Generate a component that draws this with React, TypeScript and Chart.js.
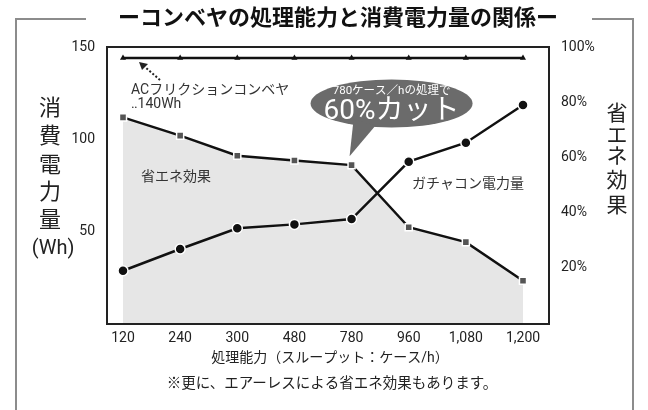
import React, { useEffect, useRef } from "react";
import { Chart, registerables } from "chart.js";

Chart.register(...registerables);

// ---- data ----
const categories = ["120", "240", "300", "480", "780", "960", "1,080", "1,200"];
const gachaconWh = [28.4, 40.2, 51.5, 53.6, 56.5, 87.7, 98, 118.5];
const savingPct = [74.5, 67.9, 60.6, 58.9, 57.2, 34.7, 29.3, 15.3];
const acFrictionWh = [144, 144, 144, 144, 144, 144, 144, 144];
const leftAxisMax = 150;
const leftAxisStep = 50;
const rightAxisMax = 100;
const rightAxisStep = 20;

const titleText = "ーコンベヤの処理能力と消費電力量の関係ー";
const leftTitleChars = ["消", "費", "電", "力", "量", "(Wh)"];
const rightTitleChars = ["省", "エ", "ネ", "効", "果"];
const xTitle = "処理能力（スループット：ケース/h）";
const noteText = "※更に、エアーレスによる省エネ効果もあります。";
const acLabel1 = "ACフリクションコンベヤ";
const acLabel2 = "‥140Wh";
const savingLabel = "省エネ効果";
const gachaconLabel = "ガチャコン電力量";
const bubbleLine1 = "780ケース／hの処理で";
const bubbleLine2 = "60%カット";
const bubbleIndex = 4;

const FONT = '"Liberation Sans Narrow", Roboto, "Noto Sans CJK JP", sans-serif';
const JFONT = 'Roboto, "Noto Sans CJK JP", sans-serif';

const decorPlugin = {
  id: "decor",
  afterDraw(chart: any) {
    const ctx = chart.ctx as CanvasRenderingContext2D;
    const a = chart.chartArea;
    ctx.save();

    // outer grey frame
    ctx.strokeStyle = "#8c8c8c";
    ctx.lineWidth = 2;
    ctx.beginPath();
    ctx.moveTo(16, 412);
    ctx.lineTo(16, 19);
    ctx.lineTo(86, 19);
    ctx.moveTo(592, 19);
    ctx.lineTo(633, 19);
    ctx.lineTo(633, 412);
    ctx.stroke();

    // title
    ctx.fillStyle = "#111";
    ctx.font = `bold 22px ${JFONT}`;
    ctx.textAlign = "center";
    ctx.textBaseline = "middle";
    ctx.fillText(titleText, 338, 19);

    // plot frame
    ctx.strokeStyle = "#222";
    ctx.lineWidth = 2;
    ctx.strokeRect(a.left - 16, a.top, a.right - a.left + 42, a.bottom - a.top + 1);

    // vertical axis titles
    ctx.fillStyle = "#222";
    ctx.font = `22px ${JFONT}`;
    const lc = [109, 137.5, 166, 193.5, 221];
    for (let i = 0; i < 5; i++) ctx.fillText(leftTitleChars[i], 50, lc[i]);
    ctx.font = `20px ${FONT}`;
    ctx.fillText(leftTitleChars[5], 53, 249);
    ctx.font = `21px ${JFONT}`;
    const rc = [115, 137, 158, 182, 207];
    for (let i = 0; i < 5; i++) ctx.fillText(rightTitleChars[i], 617, rc[i]);

    // x title and note
    ctx.fillStyle = "#222";
    ctx.font = `14px ${JFONT}`;
    ctx.fillText(xTitle, 330, 358);
    ctx.font = `14.5px ${JFONT}`;
    ctx.fillText(noteText, 332, 384);

    // annotations
    ctx.fillStyle = "#333";
    ctx.textAlign = "left";
    ctx.font = `14px ${JFONT}`;
    ctx.fillText(acLabel1, 131, 90);
    ctx.fillText(acLabel2, 131, 104);
    ctx.fillText(savingLabel, 141, 177);
    ctx.fillText(gachaconLabel, 412, 184);

    // dotted arrow
    ctx.strokeStyle = "#222";
    ctx.lineWidth = 2;
    ctx.setLineDash([2, 2]);
    ctx.beginPath();
    ctx.moveTo(160, 80);
    ctx.lineTo(145, 67);
    ctx.stroke();
    ctx.setLineDash([]);
    ctx.fillStyle = "#222";
    ctx.beginPath();
    ctx.moveTo(139, 62);
    ctx.lineTo(148, 64);
    ctx.lineTo(142, 70);
    ctx.closePath();
    ctx.fill();

    // speech bubble anchored to the 780 point of the saving series
    const meta = chart.getDatasetMeta(2);
    const p = meta.data[bubbleIndex];
    const cx = p.x + 40;
    const cy = 103.5;
    ctx.fillStyle = "#6b6b6b";
    ctx.beginPath();
    ctx.ellipse(cx, cy, 81, 24, 0, 0, Math.PI * 2);
    ctx.fill();
    ctx.beginPath();
    ctx.moveTo(cx - 38, cy + 16);
    ctx.lineTo(p.x - 2, p.y - 9);
    ctx.lineTo(cx - 16, cy + 22);
    ctx.closePath();
    ctx.fill();
    ctx.fillStyle = "#fff";
    ctx.textAlign = "center";
    ctx.font = `11.5px ${JFONT}`;
    ctx.fillText(bubbleLine1, cx, 91);
    ctx.font = `28px ${JFONT}`;
    ctx.fillText(bubbleLine2, cx, 112);

    ctx.restore();
  },
};

export default function App() {
  const ref = useRef<HTMLCanvasElement | null>(null);
  useEffect(() => {
    if (!ref.current) return;
    const chart = new Chart(ref.current, {
      type: "line",
      data: {
        labels: categories,
        datasets: [
          {
            label: "ACフリクションコンベヤ",
            data: acFrictionWh,
            yAxisID: "y",
            borderColor: "#111",
            borderWidth: 2.5,
            pointStyle: "triangle",
            pointRadius: 3.5,
            pointBackgroundColor: "#111",
            pointBorderColor: "#111",
            pointBorderWidth: 0,
            fill: false,
          },
          {
            label: gachaconLabel,
            data: gachaconWh,
            yAxisID: "y",
            borderColor: "#111",
            borderWidth: 2.5,
            pointStyle: "circle",
            pointRadius: 5,
            pointBackgroundColor: "#111",
            pointBorderColor: "#fff",
            pointBorderWidth: 1.5,
            fill: false,
          },
          {
            label: savingLabel,
            data: savingPct,
            yAxisID: "y2",
            borderColor: "#111",
            borderWidth: 2.5,
            pointStyle: "rect",
            pointRadius: 5,
            pointBackgroundColor: "#555",
            pointBorderColor: "#fff",
            pointBorderWidth: 1.5,
            fill: "origin",
            backgroundColor: "#e6e6e6",
          },
        ],
      },
      options: {
        responsive: false,
        animation: false,
        events: [],
        layout: { padding: { top: 47, left: 0, right: 0, bottom: 0 } },
        plugins: {
          legend: { display: false },
          tooltip: { enabled: false },
          title: { display: false },
          filler: { drawTime: "beforeDatasetsDraw" },
        },
        scales: {
          x: {
            type: "category",
            offset: false,
            grid: { display: false, drawTicks: false },
            border: { display: false },
            ticks: {
              color: "#222",
              font: { family: FONT, size: 14 },
              padding: 7,
              maxRotation: 0,
              autoSkip: false,
            },
            afterFit: (s: any) => {
              s.height = 87;
            },
          },
          y: {
            position: "left",
            min: 0,
            max: leftAxisMax,
            grid: { display: false, drawTicks: false },
            border: { display: false },
            ticks: {
              stepSize: leftAxisStep,
              color: "#222",
              font: { family: FONT, size: 14 },
              padding: 28,
              callback: (v: any) => (v === 0 ? "" : String(v)),
            },
            afterFit: (s: any) => {
              s.width = 123;
            },
          },
          y2: {
            position: "right",
            min: 0,
            max: rightAxisMax,
            grid: { display: false, drawTicks: false },
            border: { display: false },
            ticks: {
              stepSize: rightAxisStep,
              color: "#222",
              font: { family: FONT, size: 14 },
              padding: 38,
              callback: (v: any) => (v === 0 ? "" : v + "%"),
            },
            afterFit: (s: any) => {
              s.width = 125;
            },
          },
        },
      },
      plugins: [decorPlugin],
    });
    return () => chart.destroy();
  }, []);

  return (
    <div style={{ position: "absolute", left: 0, top: 0, width: 648, height: 410, background: "#fff" }}>
      <canvas ref={ref} width={648} height={410} style={{ display: "block" }} />
    </div>
  );
}
